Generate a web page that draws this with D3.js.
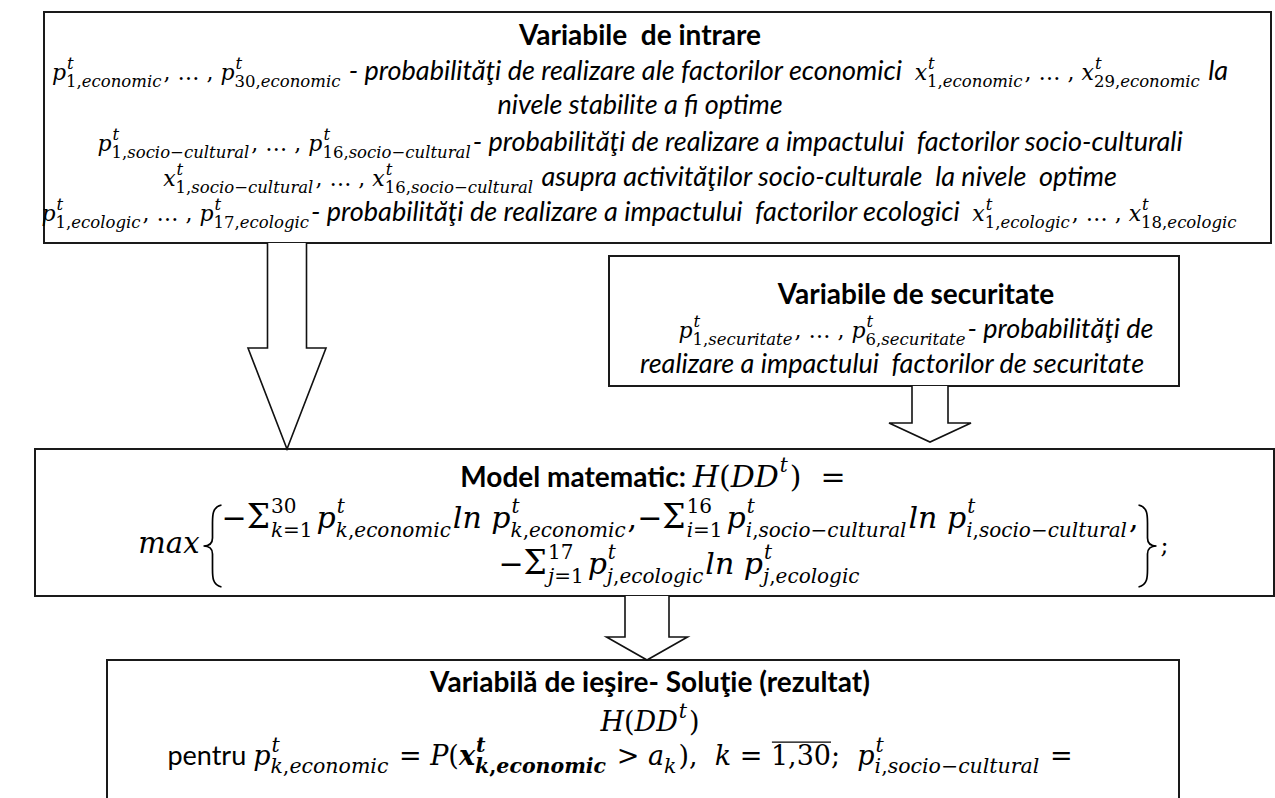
<!DOCTYPE html>
<html>
<head>
<meta charset="utf-8">
<script src="https://cdn.jsdelivr.net/npm/d3@7"></script>
<style>
  body { margin: 0; background: #fff; }
  svg { display: block; }
</style>
</head>
<body>
<svg id="chart" width="1275" height="798"></svg>
<script>
// little constructors for the pieces of a line of text
function v(base, sup, sub, bold) { return {k: "var", base: base, sup: sup, sub: sub, bold: bold}; }
function m(t) { return {k: "math", t: t}; }
function sum(lo, hi) { return {k: "sum", lo: lo, hi: hi}; }
function it(t) { return {k: "it", t: t}; }
function bo(t) { return {k: "bold", t: t}; }
function rg(t) { return {k: "reg", t: t}; }
function ov(t) { return {k: "over", t: t}; }

// texts of the four boxes
var titles = [
    "Variabile  de intrare",
    "Variabile de securitate",
    "Model matematic:",
    "Variabilă de ieşire- Soluţie (rezultat)"
];

var inputLines = [
    [v("p", "t", "1,economic"), m(", … , "), v("p", "t", "30,economic"),
     it(" - probabilităţi de realizare ale factorilor economici  "),
     v("x", "t", "1,economic"), m(", … , "), v("x", "t", "29,economic"), it(" la")],
    [it("nivele stabilite a fi optime")],
    [v("p", "t", "1,socio−cultural"), m(", … , "), v("p", "t", "16,socio−cultural"),
     it("- probabilităţi de realizare a impactului  factorilor socio-culturali")],
    [v("x", "t", "1,socio−cultural"), m(", … , "), v("x", "t", "16,socio−cultural"),
     it(" asupra activităţilor socio-culturale  la nivele  optime")],
    [v("p", "t", "1,ecologic"), m(", … , "), v("p", "t", "17,ecologic"),
     it("- probabilităţi de realizare a impactului  factorilor ecologici  "),
     v("x", "t", "1,ecologic"), m(", … , "), v("x", "t", "18,ecologic")]
];

var securityLines = [
    [v("p", "t", "1,securitate"), m(", … , "), v("p", "t", "6,securitate"), it("- probabilităţi de")],
    [it("realizare a impactului  factorilor de securitate")]
];

var modelTitle = [bo(titles[2] + " "), m("H(DD"), v("", "t", ""), m(")  =")];
var modelRows = [
    [m("−"), sum("k=1", "30"), v("p", "t", "k,economic"), m("ln "), v("p", "t", "k,economic"), m(","),
     m("−"), sum("i=1", "16"), v("p", "t", "i,socio−cultural"), m("ln "), v("p", "t", "i,socio−cultural"), m(",")],
    [m("−"), sum("j=1", "17"), v("p", "t", "j,ecologic"), m("ln "), v("p", "t", "j,ecologic")]
];

var outputLines = [
    [m("H(DD"), v("", "t", ""), m(")")],
    [rg("pentru "), v("p", "t", "k,economic"), m(" = P("), v("x", "t", "k,economic", true),
     m(" > "), v("a", "", "k"), m("),  k = "), ov("1,30"), m(";  "), v("p", "t", "i,socio−cultural"), m(" =")]
];

// geometry
var boxes = [
    {x0: 44, x1: 1271, y0: 12, y1: 243},
    {x0: 609, x1: 1179, y0: 256, y1: 386},
    {x0: 35, x1: 1274, y0: 449, y1: 596},
    {x0: 107, x1: 1179, y0: 660, y1: 840}
];
var arrows = [
    {cx: 287, shaft: 39, head: 78, y0: 243, yh: 348, y1: 449},
    {cx: 930, shaft: 36, head: 82, y0: 386, yh: 423, y1: 442},
    {cx: 647, shaft: 44, head: 81, y0: 596, yh: 637, y1: 660}
];

// font sizes: math base, math scripts, sans text
var small = {ms: 22, ss: 16.5, sans: 27};
var model = {ms: 30, ss: 20, sans: 28};
var output = {ms: 27, ss: 20.5, sans: 27};

var SANS = "Lato, 'Open Sans', sans-serif";
var MATH = "'DejaVu Serif', serif";

var svg = d3.select("#chart");
svg.append("rect").attr("width", 1275).attr("height", 798).attr("fill", "#fff");

svg.selectAll("rect.box").data(boxes).enter().append("rect")
    .attr("class", "box")
    .attr("x", function (d) { return d.x0; })
    .attr("y", function (d) { return d.y0; })
    .attr("width", function (d) { return d.x1 - d.x0; })
    .attr("height", function (d) { return d.y1 - d.y0; })
    .attr("fill", "#fff").attr("stroke", "#1a1a1a").attr("stroke-width", 2);

svg.selectAll("path.arrow").data(arrows).enter().append("path")
    .attr("class", "arrow")
    .attr("d", function (a) {
        var s = a.shaft / 2, h = a.head / 2;
        return "M" + (a.cx - s) + "," + a.y0 + "L" + (a.cx - s) + "," + a.yh +
               "L" + (a.cx - h) + "," + a.yh + "L" + a.cx + "," + a.y1 +
               "L" + (a.cx + h) + "," + a.yh + "L" + (a.cx + s) + "," + a.yh +
               "L" + (a.cx + s) + "," + a.y0;
    })
    .attr("fill", "#fff").attr("stroke", "#111").attr("stroke-width", 1.6);

// math text: letters italic, digits and signs upright
function mathText(g, x, y, str, size, bold) {
    if (!str) return 0;
    var t = g.append("text").attr("x", x).attr("y", y)
        .attr("font-family", MATH).attr("font-size", size)
        .attr("font-weight", bold ? "bold" : "normal").attr("fill", "#000");
    (str.match(/[A-Za-z]+|[^A-Za-z]+/g) || []).forEach(function (run) {
        t.append("tspan").attr("font-style", /[A-Za-z]/.test(run) ? "italic" : "normal")
            .text(run.replace(/ /g, "\u00a0"));
    });
    return t.node().getComputedTextLength();
}

function plainText(g, x, y, str, size, style, weight) {
    var t = g.append("text").attr("x", x).attr("y", y)
        .attr("font-family", SANS).attr("font-size", size)
        .attr("font-style", style).attr("font-weight", weight).attr("fill", "#000")
        .text(str.replace(/ /g, "\u00a0"));
    return t.node().getComputedTextLength();
}

// lays a line out from left to right, then centres it on cx
function drawLine(segs, cx, y, f) {
    var g = svg.append("g");
    var x = 0, up = f.ms * 0.5, dn = f.ms * 0.3;
    segs.forEach(function (d) {
        if (d.k === "var") {
            var wb = mathText(g, x, y, d.base, f.ms, d.bold);
            var ws = mathText(g, x + wb + 1, y - up, d.sup, f.ss, d.bold);
            var wl = mathText(g, x + wb, y + dn, d.sub, f.ss, d.bold);
            x += wb + Math.max(ws + 1, wl) + 2;
        } else if (d.k === "sum") {
            var w = mathText(g, x, y, "Σ", f.ms * 1.1, false);
            var w1 = mathText(g, x + w + 1, y - up, d.hi, f.ss, false);
            var w2 = mathText(g, x + w + 1, y + dn, d.lo, f.ss, false);
            x += w + Math.max(w1, w2) + 5;
        } else if (d.k === "math") {
            x += mathText(g, x, y, d.t, f.ms, false);
        } else if (d.k === "over") {
            var wo = mathText(g, x, y, d.t, f.ms, false);
            g.append("line").attr("x1", x + 1).attr("x2", x + wo)
                .attr("y1", y - f.ms * 0.85).attr("y2", y - f.ms * 0.85)
                .attr("stroke", "#000").attr("stroke-width", 1.3);
            x += wo;
        } else if (d.k === "it") {
            x += plainText(g, x, y, d.t, f.sans, "italic", "normal");
        } else if (d.k === "bold") {
            x += plainText(g, x, y, d.t, f.sans, "normal", "bold");
        } else {
            x += plainText(g, x, y, d.t, f.sans, "normal", "normal");
        }
    });
    g.attr("transform", "translate(" + (cx - x / 2) + ",0)");
    return {left: cx - x / 2, right: cx + x / 2};
}

function drawTitle(str, cx, y) {
    svg.append("text").attr("x", cx).attr("y", y).attr("text-anchor", "middle")
        .attr("font-family", SANS).attr("font-size", 28).attr("font-weight", "bold")
        .attr("fill", "#000").text(str.replace(/ /g, "\u00a0"));
}

// box 1: input variables
drawTitle(titles[0], 640, 45);
[80, 114, 151, 186, 221].forEach(function (y, i) { drawLine(inputLines[i], 640, y, small); });

// box 2: security variables
drawTitle(titles[1], 916, 304);
drawLine(securityLines[0], 916, 338, small);
drawLine(securityLines[1], 892, 373, small);

// box 3: the model
drawLine(modelTitle, 653, 487, model);
var row1 = drawLine(modelRows[0], 680, 528, model);
drawLine(modelRows[1], 680, 574, model);
svg.append("text").attr("x", row1.left - 22).attr("y", 553)
    .attr("text-anchor", "end").attr("font-family", MATH).attr("font-size", 29)
    .attr("font-style", "italic").text("max");

function brace(x, y0, y1, dir) {
    var ym = (y0 + y1) / 2, w = 9 * dir;
    return "M" + (x + w) + "," + y0 +
        "C" + x + "," + (y0 + 2) + " " + x + "," + (y0 + 10) + " " + x + "," + (y0 + 18) +
        "L" + x + "," + (ym - 8) +
        "C" + x + "," + (ym - 2) + " " + (x - w * 0.4) + "," + ym + " " + (x - w) + "," + ym +
        "C" + (x - w * 0.4) + "," + ym + " " + x + "," + (ym + 2) + " " + x + "," + (ym + 8) +
        "L" + x + "," + (y1 - 18) +
        "C" + x + "," + (y1 - 10) + " " + x + "," + (y1 - 2) + " " + (x + w) + "," + y1;
}
svg.append("path").attr("d", brace(row1.left - 9, 505, 587, 1))
    .attr("fill", "none").attr("stroke", "#000").attr("stroke-width", 1.7);
svg.append("path").attr("d", brace(row1.right + 9, 505, 587, -1))
    .attr("fill", "none").attr("stroke", "#000").attr("stroke-width", 1.7);
svg.append("text").attr("x", row1.right + 22).attr("y", 553)
    .attr("font-family", MATH).attr("font-size", 24).text(";");

// box 4: the output
drawTitle(titles[3], 650, 692);
drawLine(outputLines[0], 650, 731, output);
drawLine(outputLines[1], 620, 765, output);
</script>
</body>
</html>
